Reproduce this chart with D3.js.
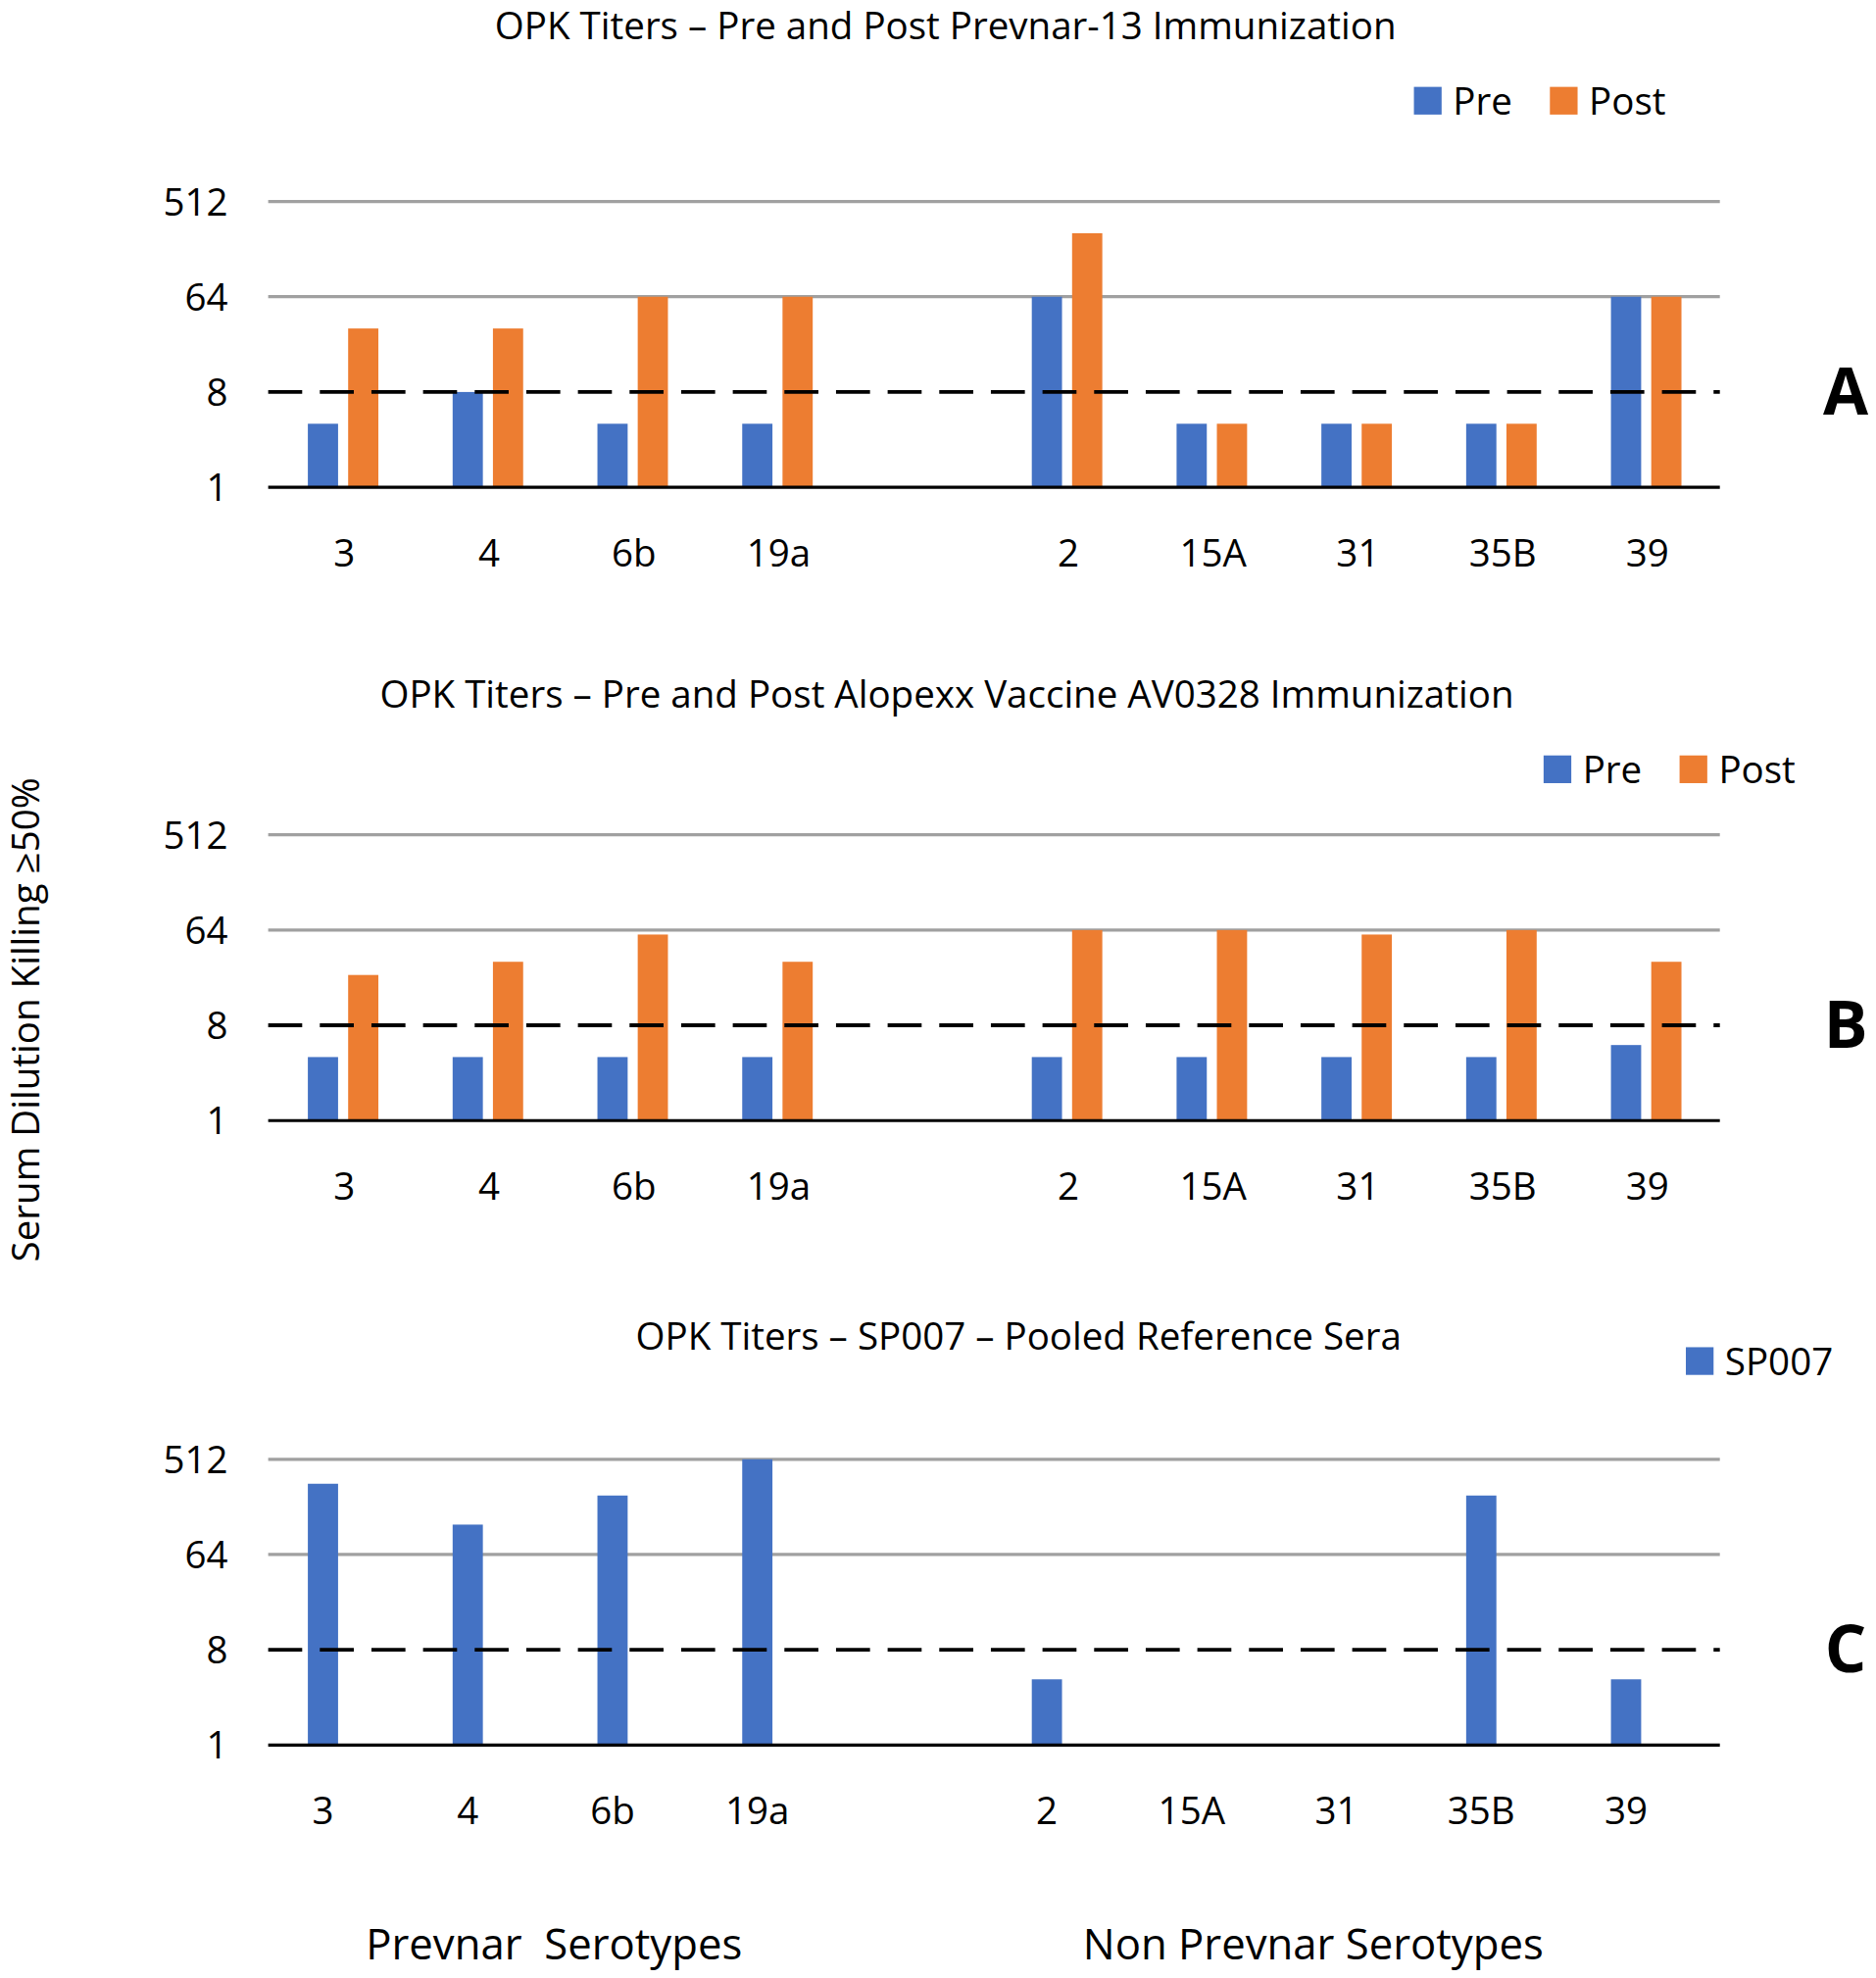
<!DOCTYPE html>
<html><head><meta charset="utf-8">
<script src="https://cdn.jsdelivr.net/npm/d3@7"></script>
<style>body{margin:0;background:#fff}text{font-family:"Open Sans",sans-serif}</style>
</head><body>
<svg id="chart" width="1914" height="2018" viewBox="0 0 1490 1571"></svg>
<script>
const categories = ["3", "4", "6b", "19a", "", "2", "15A", "31", "35B", "39"];
const tickValues = [1, 8, 64, 512];
const preA = [4, 8, 4, 4, null, 64, 4, 4, 4, 64];
const postA = [32, 32, 64, 64, null, 256, 4, 4, 4, 64];
const preB = [4, 4, 4, 4, null, 4, 4, 4, 4, 5.2];
const postB = [24, 32, 58, 32, null, 64, 64, 58, 64, 32];
const sp007 = [300, 123, 232, 512, null, 4.2, 1, 1, 232, 4.2];

const blue = "#4472C4", orange = "#ED7D31";
const svg = d3.select("#chart");

function panel(o) {
  const y = d3.scaleLog().base(2).domain([1, 512]).range([o.base, o.base - 227]);
  const x = d3.scaleBand().domain(categories).range(o.xr);
  const g = svg.append("g");
  svg.append("text").attr("x", o.tx).attr("y", o.ty).attr("text-anchor", "middle")
    .attr("font-size", 30).text(o.title);
  // grid
  g.selectAll(".grid").data([64, 512]).enter().append("line")
    .attr("x1", 213).attr("x2", 1366).attr("y1", d => y(d)).attr("y2", d => y(d))
    .attr("stroke", "#a0a0a0").attr("stroke-width", 2.5);
  g.selectAll(".tick").data(tickValues).enter().append("text")
    .attr("x", 181).attr("y", d => y(d) + 11).attr("text-anchor", "end")
    .attr("font-size", 30).text(d => d);
  // bars
  o.series.forEach(s => {
    g.selectAll(null).data(s.values.map((v, i) => ({ v, c: categories[i] })).filter(d => d.v && d.v > 1))
      .enter().append("rect")
      .attr("x", d => x(d.c) + x.bandwidth() / 2 + s.off)
      .attr("width", s.w)
      .attr("y", d => y(d.v)).attr("height", d => o.base - y(d.v))
      .attr("fill", s.color);
  });
  g.append("line").attr("x1", 213).attr("x2", 1366).attr("y1", o.base).attr("y2", o.base)
    .attr("stroke", "#000").attr("stroke-width", 2.5);
  g.append("line").attr("x1", 213).attr("x2", 1366).attr("y1", y(8)).attr("y2", y(8))
    .attr("stroke", "#000").attr("stroke-width", 3).attr("stroke-dasharray", "27,14");
  g.selectAll(".cat").data(categories.filter(c => c)).enter().append("text")
    .attr("x", d => x(d) + x.bandwidth() / 2).attr("y", o.base + 63)
    .attr("text-anchor", "middle").attr("font-size", 30).text(d => d);
  svg.append("text").attr("x", 1466).attr("y", y(8) + 18).attr("text-anchor", "middle")
    .attr("font-size", 52).attr("font-weight", "bold").text(o.letter);
  // legend
  let lx = o.lx;
  o.series.forEach(s => {
    svg.append("rect").attr("x", lx).attr("y", o.ly - 11).attr("width", 22).attr("height", 22).attr("fill", s.color);
    svg.append("text").attr("x", lx + 31).attr("y", o.ly + 11).attr("font-size", 30).text(s.name);
    lx += 108;
  });
}

panel({ base: 387, xr: [216, 1366], title: "OPK Titers \u2013 Pre and Post Prevnar-13 Immunization", tx: 751, ty: 31,
  letter: "A", lx: 1123, ly: 80,
  series: [{ name: "Pre", values: preA, color: blue, off: -29, w: 24 },
           { name: "Post", values: postA, color: orange, off: 3, w: 24 }] });
panel({ base: 890, xr: [216, 1366], title: "OPK Titers \u2013 Pre and Post Alopexx Vaccine AV0328 Immunization", tx: 752, ty: 562,
  letter: "B", lx: 1226, ly: 611,
  series: [{ name: "Pre", values: preB, color: blue, off: -29, w: 24 },
           { name: "Post", values: postB, color: orange, off: 3, w: 24 }] });
panel({ base: 1386, xr: [199, 1349], title: "OPK Titers \u2013 SP007 \u2013 Pooled Reference Sera", tx: 809, ty: 1072,
  letter: "C", lx: 1339, ly: 1081,
  series: [{ name: "SP007", values: sp007, color: blue, off: -12, w: 24 }] });

svg.append("text").attr("transform", "translate(31,810) rotate(-90)").attr("text-anchor", "middle")
  .attr("font-size", 30).text("Serum Dilution Killing \u226550%");
svg.append("text").attr("x", 440).attr("y", 1556).attr("text-anchor", "middle").attr("font-size", 34)
  .attr("xml:space", "preserve").text("Prevnar  Serotypes");
svg.append("text").attr("x", 1043).attr("y", 1556).attr("text-anchor", "middle").attr("font-size", 34)
  .text("Non Prevnar Serotypes");
</script>
</body></html>
